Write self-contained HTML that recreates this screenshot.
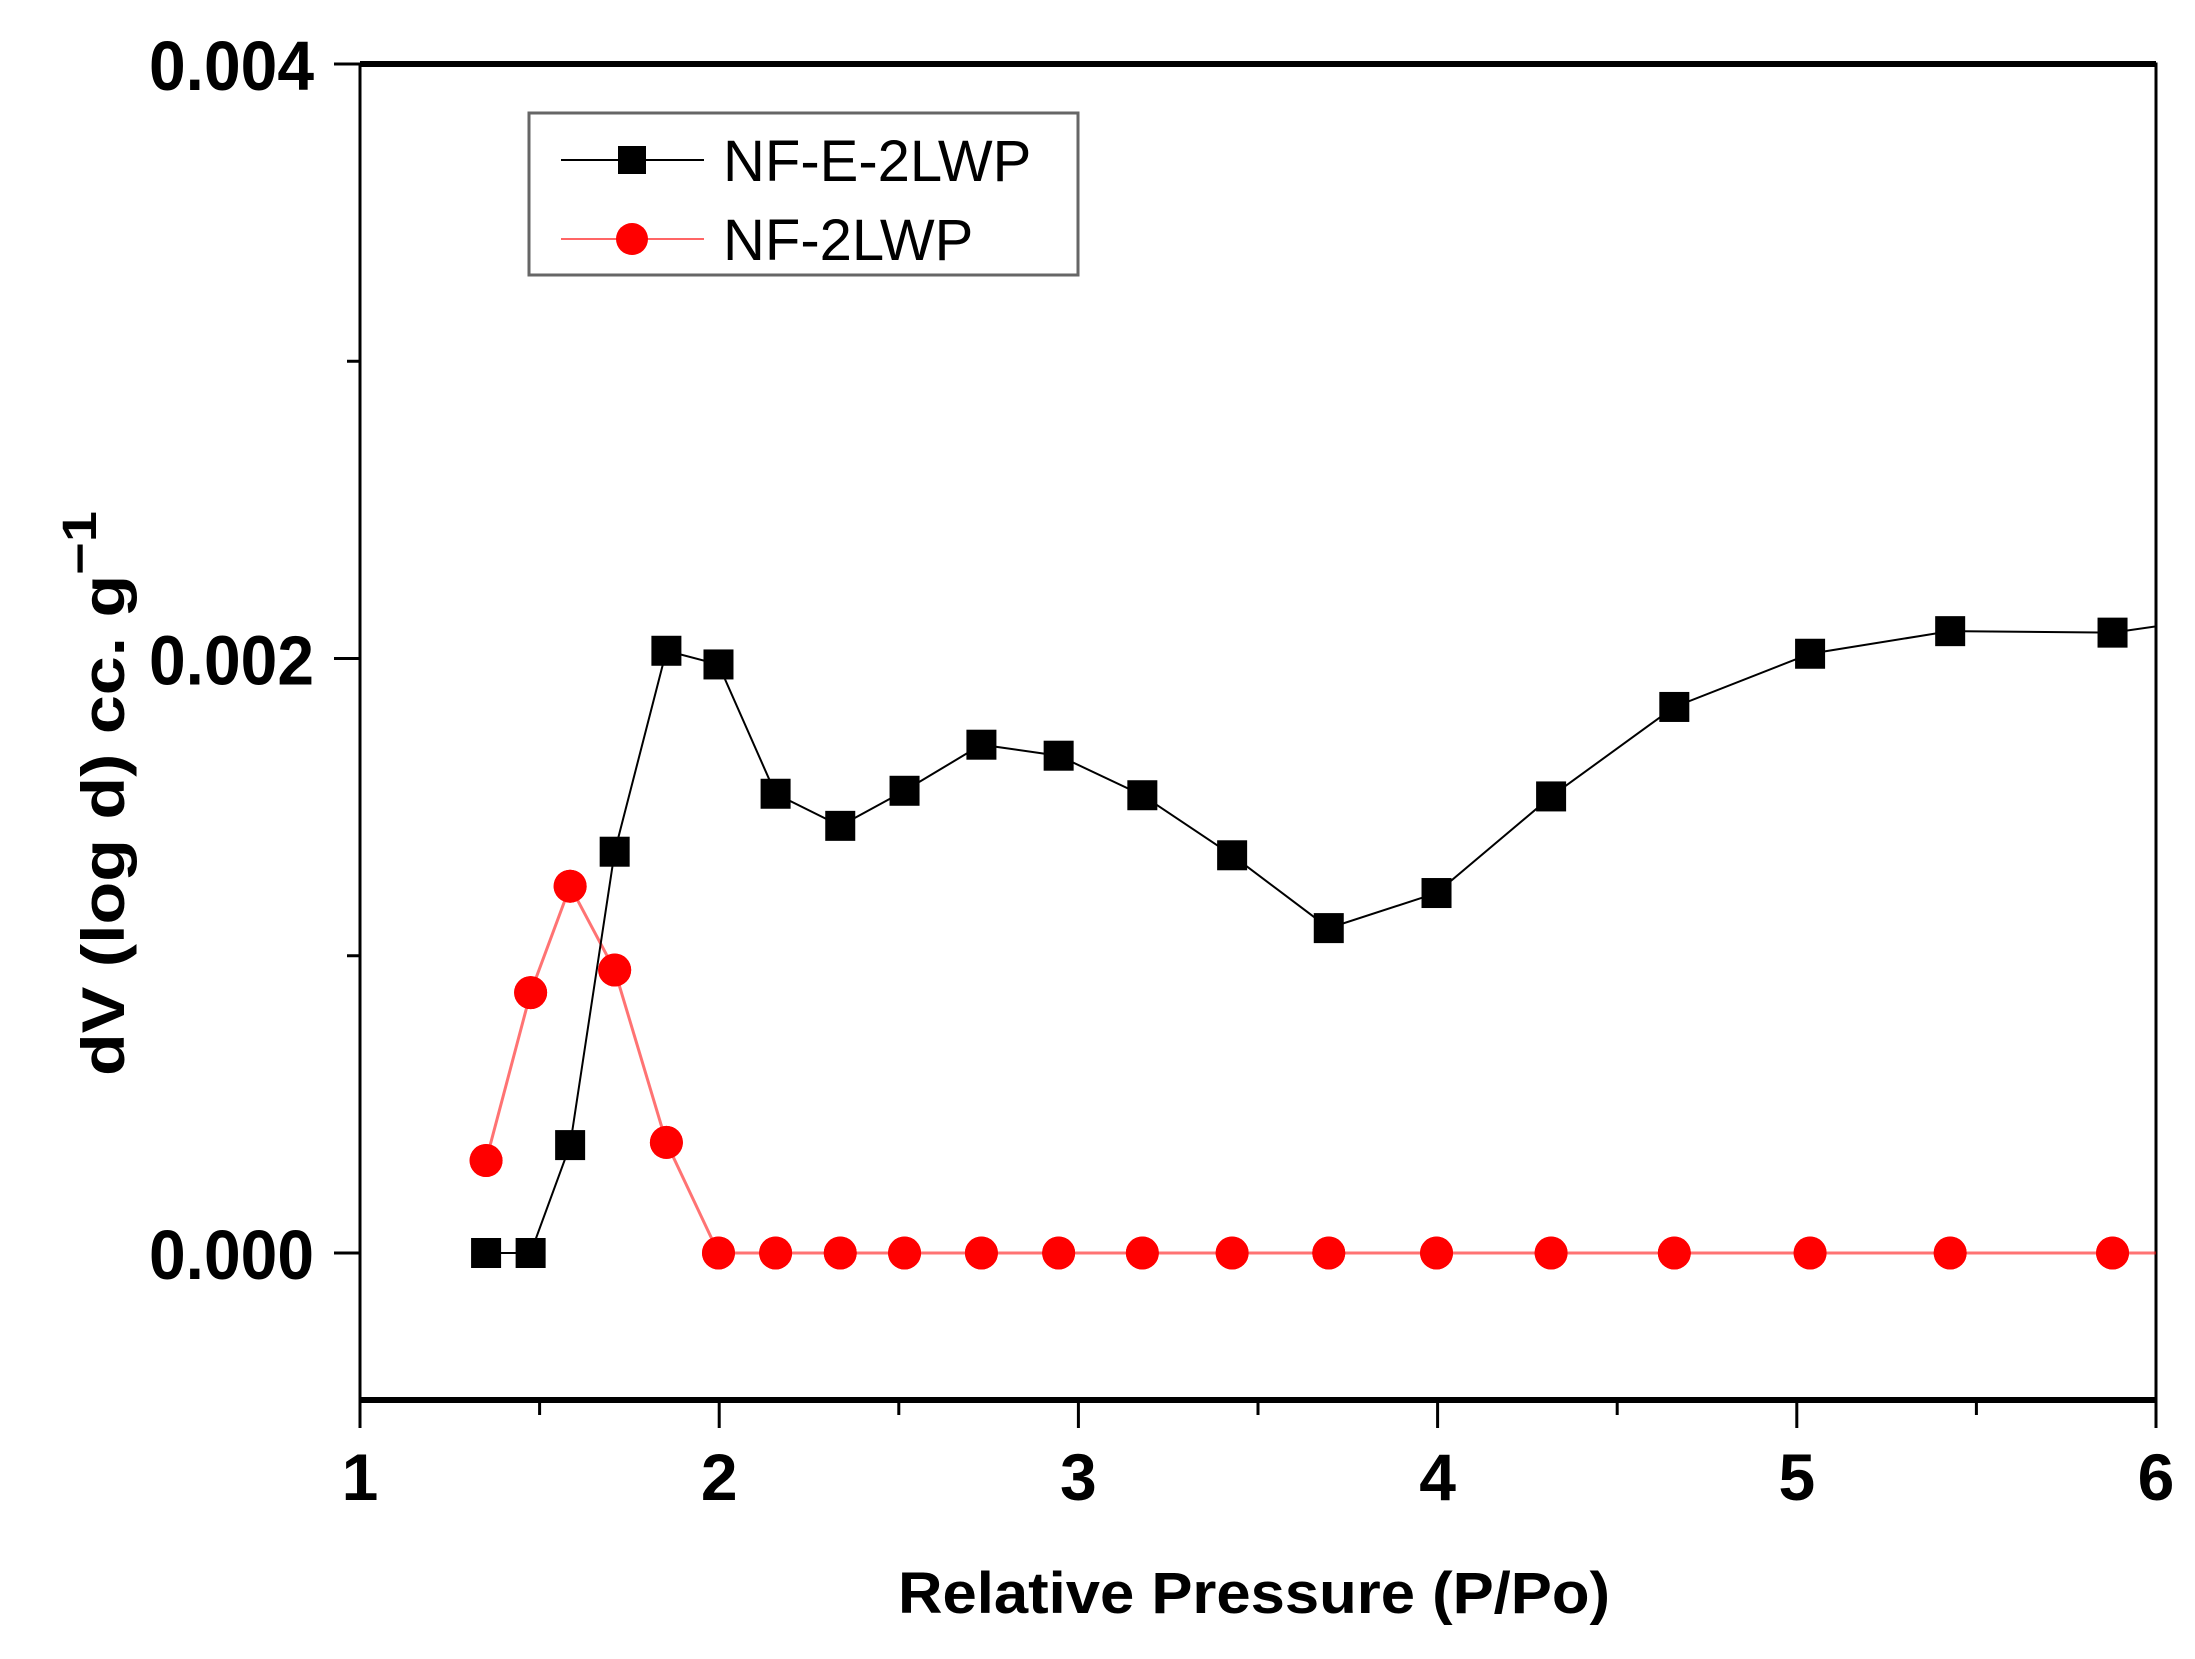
<!DOCTYPE html>
<html><head><meta charset="utf-8"><style>
html,body{margin:0;padding:0;background:#fff;}
svg{display:block;font-family:"Liberation Sans",Arial,sans-serif;}
</style></head><body>
<svg id="chart" width="2195" height="1659" viewBox="0 0 2195 1659" xmlns="http://www.w3.org/2000/svg">
<g id="axes"></g>
<g id="plot"></g>
<text x="1254" y="1613" font-size="58" font-weight="bold" text-anchor="middle" textLength="712" lengthAdjust="spacingAndGlyphs">Relative Pressure (P/Po)</text>
<text transform="translate(124,1076) rotate(-90)" font-size="60" font-weight="bold" textLength="565" lengthAdjust="spacingAndGlyphs">dV (log d) cc. g<tspan dy="-28" font-size="48">−1</tspan></text>
<g>
<rect x="529" y="113" width="549" height="162" fill="#fff" stroke="#666" stroke-width="3"/>
<g>
<line x1="561" y1="160" x2="704" y2="160" stroke="#000" stroke-width="2"/>
<rect x="618" y="146" width="28" height="28" fill="#000"/>
<text x="723" y="181" font-size="58">NF-E-2LWP</text></g>
<g>
<line x1="561" y1="239" x2="704" y2="239" stroke="#f00" stroke-width="2" opacity="0.6"/>
<circle cx="632" cy="239" r="16" fill="#f00"/>
<text x="723" y="260" font-size="58">NF-2LWP</text></g>
</g>
</svg>
<script>
const xValues = [1.351,1.475,1.585,1.709,1.853,1.998,2.157,2.337,2.516,2.730,2.945,3.178,3.428,3.697,3.997,4.316,4.659,5.037,5.427,5.879,6.3];
const seriesNFE = [0,0,0.000363,0.00135,0.002026,0.00198,0.001545,0.001437,0.001555,0.00171,0.001673,0.00154,0.001338,0.001093,0.001211,0.001536,0.001837,0.002016,0.002092,0.002087,0.00216];
const seriesNF = [0.000311,0.000876,0.001234,0.000952,0.000372,0,0,0,0,0,0,0,0,0,0,0,0,0,0,0,0];
const xTicks = [1,2,3,4,5,6];
const yTicks = [0.000,0.002,0.004];
const yTickLabels = ["0.000","0.002","0.004"];

const L=360,R=2156,T=64,B=1400;
const xMin=1,xMax=6;
const y0px=1253,y4px=64;
function sx(v){return L+(v-xMin)/(xMax-xMin)*(R-L);}
function sy(v){return y0px+(v/0.004)*(y4px-y0px);}
const NS="http://www.w3.org/2000/svg";
function mk(tag,attrs,parent){const e=document.createElementNS(NS,tag);for(const k in attrs)e.setAttribute(k,attrs[k]);parent.appendChild(e);return e;}
const axes=document.getElementById('axes'),plot=document.getElementById('plot');
const svg=document.getElementById('chart');
const defs=mk('defs',{},svg);
const cp=mk('clipPath',{id:'clip'},defs);
mk('rect',{x:L,y:T,width:R-L,height:B-T},cp);

let f=mk('rect',{x:L,y:T,width:R-L,height:B-T,fill:'none',stroke:'#000','stroke-width':3},axes);


let tl=mk('line',{x1:L,y1:T,x2:R,y2:T,stroke:'#000','stroke-width':6},axes);


let bl=mk('line',{x1:L,y1:B,x2:R,y2:B,stroke:'#000','stroke-width':6},axes);



xTicks.forEach((v,i)=>{
  let t=mk('line',{x1:sx(v),y1:B,x2:sx(v),y2:B+28,stroke:'#000','stroke-width':3},axes);
  
  
  let lb=mk('text',{x:sx(v),y:1500,'font-size':66,'font-weight':'bold','text-anchor':'middle'},axes);
  lb.textContent=String(v);
  
  
  if(i<xTicks.length-1){
    let m=mk('line',{x1:sx(v+0.5),y1:B,x2:sx(v+0.5),y2:B+15,stroke:'#000','stroke-width':3},axes);
    
    
  }
});
yTicks.forEach((v,i)=>{
  let t=mk('line',{x1:L-26,y1:sy(v),x2:L,y2:sy(v),stroke:'#000','stroke-width':3},axes);
  
  
  let lb=mk('text',{x:149,y:sy(v)+26,'font-size':70,'font-weight':'bold',textLength:165,lengthAdjust:'spacingAndGlyphs'},axes);
  lb.textContent=yTickLabels[i];
  
  
});
[0.001,0.003].forEach(v=>{
  let m=mk('line',{x1:L-13,y1:sy(v),x2:L,y2:sy(v),stroke:'#000','stroke-width':3},axes);
  
  
});

const g=mk('g',{'clip-path':'url(#clip)'},plot);
function series(vals,color,op,name,shape){
  const pts=xValues.map((x,i)=>sx(x)+','+sy(vals[i])).join(' ');
  let pl=mk('polyline',{points:pts,fill:'none',stroke:color,'stroke-width':color==='#f00'?3:2,opacity:op},g);
  
  
  xValues.forEach((x,i)=>{
    let m;
    if(shape==='square') m=mk('rect',{x:sx(x)-15,y:sy(vals[i])-15,width:30,height:30,fill:color},g);
    else m=mk('circle',{cx:sx(x),cy:sy(vals[i]),r:16.5,fill:color},g);
    
    
  });
}
series(seriesNF,'#f00',0.55,'nf-2lwp','circle');
series(seriesNFE,'#000',1,'nf-e-2lwp','square');
xValues.forEach((x,i)=>{
  let c=mk('circle',{cx:sx(x),cy:sy(seriesNF[i]),r:16.5,fill:'#f00'},g);
  
  
});
</script>
</body></html>
